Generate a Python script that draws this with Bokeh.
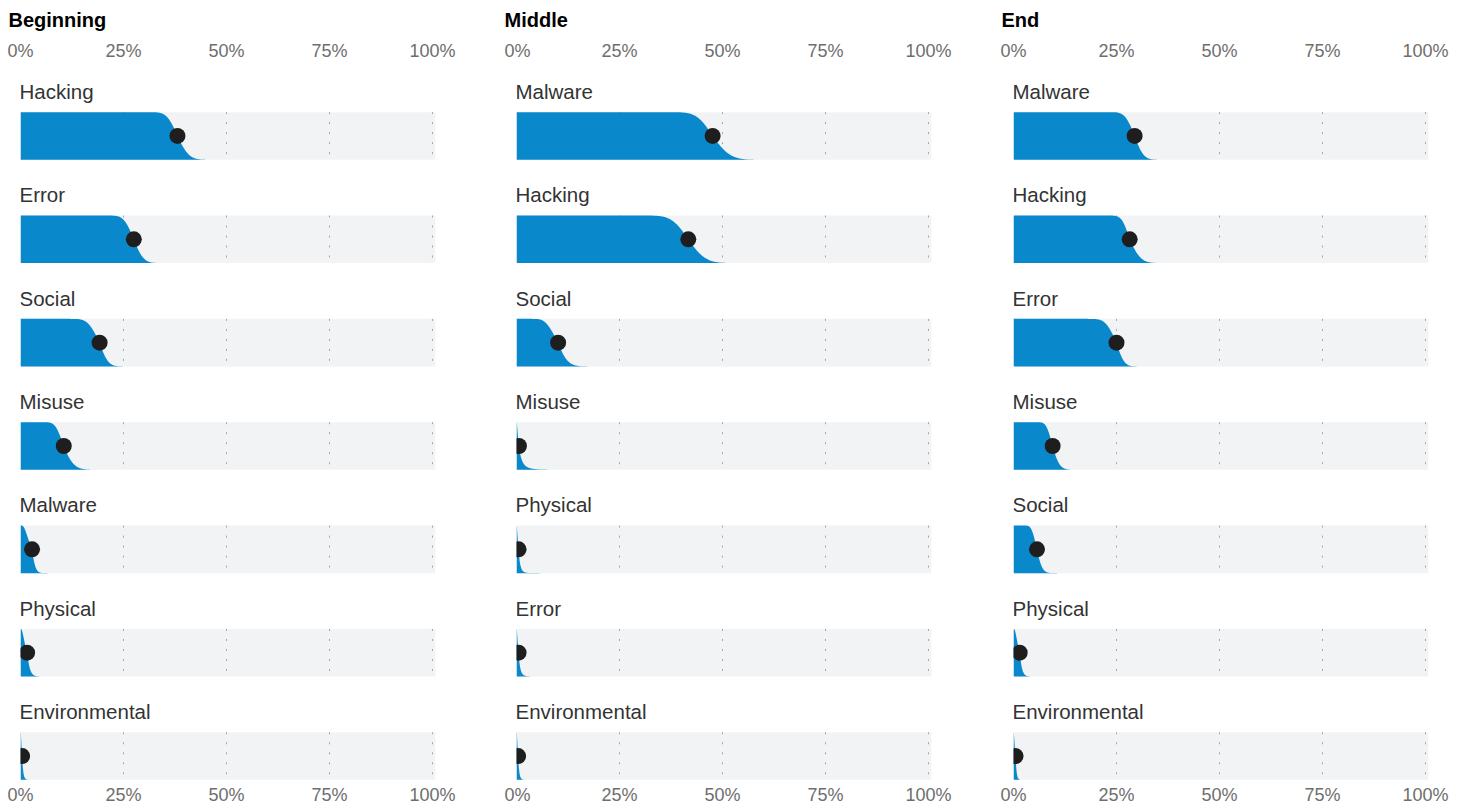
import math
import numpy as np
from bokeh.plotting import figure
from bokeh.models import Range1d, LinearAxis, FixedTicker
from bokeh.layouts import row
from bokeh.embed import file_html
from bokeh.resources import INLINE
from bokeh.core.properties import value

# ---------------- data (values in %) ----------------
panel_titles = ["Beginning", "Middle", "End"]

beginning_categories = ["Hacking", "Error", "Social", "Misuse", "Malware", "Physical", "Environmental"]
beginning_median = [38.1, 27.5, 19.2, 10.5, 2.8, 1.6, 0.4]
beginning_low = [33.2, 23.0, 14.1, 7.0, 0.5, 0.2, 0.05]
beginning_high = [43.7, 32.3, 23.5, 16.2, 5.0, 4.0, 1.6]

middle_categories = ["Malware", "Hacking", "Social", "Misuse", "Physical", "Error", "Environmental"]
middle_median = [47.6, 41.7, 10.1, 0.6, 0.5, 0.5, 0.4]
middle_low = [40.2, 34.0, 5.3, 0.05, 0.05, 0.05, 0.05]
middle_high = [56.0, 50.0, 15.5, 6.0, 2.6, 2.6, 1.6]

end_categories = ["Malware", "Hacking", "Error", "Misuse", "Social", "Physical", "Environmental"]
end_median = [29.4, 28.2, 25.0, 9.5, 5.7, 1.5, 0.5]
end_low = [25.0, 24.6, 20.1, 6.8, 3.5, 0.2, 0.05]
end_high = [33.8, 33.8, 28.8, 13.3, 8.7, 3.5, 1.5]

tick_values = [0, 25, 50, 75, 100]
tick_labels = ["0%", "25%", "50%", "75%", "100%"]
grid_values = [25, 50, 75, 100]

panels = [
    (panel_titles[0], beginning_categories, beginning_median, beginning_low, beginning_high),
    (panel_titles[1], middle_categories, middle_median, middle_low, middle_high),
    (panel_titles[2], end_categories, end_median, end_low, end_high),
]

# ---------------- style ----------------
FONT = "Liberation Sans"
BLUE = "#0a88cc"
BAND = "#f1f3f5"
DOT = "#1e1e1e"
X_MAX = 100.73
HALF = 0.23          # half band height in row units
Z_EDGE = 2.5         # quantile where the curve visually starts / ends


def logit(p):
    return np.log(p / (1.0 - p))


_erf = np.vectorize(math.erf)


def ccdf(xs, lo, mid, hi):
    lx = logit(np.clip(np.asarray(xs) / 100.0, 1e-9, 1 - 1e-9))
    lm = logit(mid / 100.0)
    s_lo = (lm - logit(lo / 100.0)) / Z_EDGE
    s_hi = (logit(hi / 100.0) - lm) / Z_EDGE
    z = np.where(lx < lm, (lx - lm) / s_lo, (lx - lm) / s_hi)
    return 1.0 - 0.5 * (1.0 + _erf(z / math.sqrt(2.0)))


xs = np.unique(np.concatenate([[0.0], np.geomspace(0.005, X_MAX, 900), np.linspace(0, X_MAX, 900)]))


def make_axis(standoff):
    ax = LinearAxis()
    ax.ticker = FixedTicker(ticks=tick_values)
    ax.major_label_overrides = {v: l for v, l in zip(tick_values, tick_labels)}
    ax.major_tick_in = 0
    ax.major_tick_out = 0
    ax.minor_tick_in = 0
    ax.minor_tick_out = 0
    ax.axis_line_color = None
    ax.major_label_text_font = FONT
    ax.major_label_text_font_size = "18px"
    ax.major_label_text_color = "#6e6e6e"
    ax.major_label_standoff = standoff
    return ax


figs = []
borders = [(20, 69), (12, 69), (13, 25)]
for k, (title, cats, med, lo, hi) in enumerate(panels):
    left_b, right_b = borders[k]
    width = left_b + 415 + right_b
    p = figure(width=width, height=807,
               x_range=Range1d(0, X_MAX), y_range=Range1d(6.246, -0.633),
               toolbar_location=None, output_backend="svg",
               x_axis_location=None, y_axis_location=None,
               min_border_left=left_b, min_border_right=right_b,
               min_border_top=0, min_border_bottom=0,
               title=title)
    p.outline_line_color = None
    p.background_fill_color = "white"
    p.border_fill_color = "white"
    p.xgrid.visible = False
    p.ygrid.visible = False
    p.title.text_font = FONT
    p.title.text_font_size = "20px"
    p.title.text_font_style = "bold"
    p.title.text_color = "#000000"
    p.title.align = "left"
    p.title.offset = -12
    p.title.standoff = 13

    p.add_layout(make_axis(10), "above")
    p.add_layout(make_axis(3), "below")

    for i, cat in enumerate(cats):
        top = i - HALF
        bot = i + HALF
        p.quad(left=[0], right=[X_MAX], top=[top], bottom=[bot],
               fill_color=BAND, line_color=None)
        p.segment(x0=grid_values, x1=grid_values, y0=[top] * len(grid_values), y1=[bot] * len(grid_values),
                  line_color="#a5a5a5", line_width=1, line_dash="2 8")
        h = ccdf(xs, lo[i], med[i], hi[i])
        p.varea(x=xs, y1=np.full_like(xs, bot), y2=bot - 2 * HALF * h,
                fill_color=BLUE, fill_alpha=1.0)
        p.scatter(x=[med[i]], y=[i], size=16, fill_color=DOT, line_color=None)
        p.text(x=[0], y=[i - 0.43], text=[cat], x_offset=-1,
               text_align="left", text_baseline="alphabetic",
               text_font=value(FONT), text_font_size="20.5px", text_color="#333333")
    figs.append(p)

layout = row(*figs)
open("out.html", "w").write(file_html(layout, INLINE))
